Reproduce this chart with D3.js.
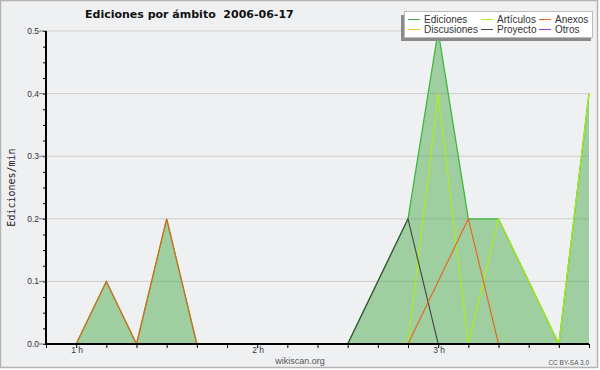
<!DOCTYPE html>
<html>
<head>
<meta charset="utf-8">
<script src="https://cdn.jsdelivr.net/npm/d3@7"></script>
<style>
  body { margin: 0; background: #ffffff; }
</style>
</head>
<body>
<div id="chart"></div>
<script>
// minutes after midnight, one bucket every 10 min
var times = [50, 60, 70, 80, 90, 100, 110, 120, 130, 140, 150, 160, 170, 180, 190, 200, 210, 220, 230];
var ediciones   = [0, 0, 0.1, 0, 0.2, 0, 0, 0, 0, 0, 0, 0.1, 0.2, 0.5, 0.2, 0.2, 0.1, 0, 0.4];
var discusiones = [0, 0, 0, 0, 0, 0, 0, 0, 0, 0, 0, 0, 0, 0, 0, 0, 0, 0, 0];
var articulos   = [0, 0, 0, 0, 0, 0, 0, 0, 0, 0, 0, 0, 0, 0.4, 0, 0.2, 0.1, 0, 0.4];
var anexos      = [0, 0, 0.1, 0, 0.2, 0, 0, 0, 0, 0, 0, 0, 0, 0.1, 0.2, 0, 0, 0, 0];
var proyecto    = [0, 0, 0, 0, 0, 0, 0, 0, 0, 0, 0, 0.1, 0.2, 0, 0, 0, 0, 0, 0];
var otros       = [0, 0, 0, 0, 0, 0, 0, 0, 0, 0, 0, 0, 0, 0, 0, 0, 0, 0, 0];
var yTicks = [0, 0.1, 0.2, 0.3, 0.4, 0.5];
var hourTicks = [60, 120, 180];
var hourLabels = ["1 h", "2 h", "3 h"];
var title = "Ediciones por ámbito\u00a0\u00a02006-06-17";

var series = [
  {name: "Ediciones",   values: ediciones,   color: "#3cb83c"},
  {name: "Discusiones", values: discusiones, color: "#f5c831"},
  {name: "Artículos",   values: articulos,   color: "#b2ee12"},
  {name: "Anexos",      values: anexos,      color: "#ec6218"},
  {name: "Proyecto",    values: proyecto,    color: "#444444"},
  {name: "Otros",       values: otros,       color: "#9a3ae8"}
];

var W = 600, H = 370;
var margin = {top: 31, right: 11, bottom: 26, left: 46},
    width = W - margin.left - margin.right,
    height = H - margin.top - margin.bottom;

var root = d3.select("#chart")
  .append("svg")
    .attr("width", W)
    .attr("height", H);

root.append("rect")
  .attr("x", 0.5).attr("y", 0.5)
  .attr("width", 597).attr("height", 367)
  .attr("fill", "#eff0f2")
  .attr("stroke", "#b4b4b4")
  .attr("stroke-width", 1.5);

var svg = root.append("g")
  .attr("transform", "translate(" + margin.left + "," + margin.top + ")");

var x = d3.scaleLinear()
  .domain([50, 230])
  .range([0, width]);

var y = d3.scaleLinear()
  .domain([0, 0.5])
  .range([height, 0]);

// grid
svg.append("g")
  .selectAll("line")
  .data(yTicks.slice(1))
  .enter()
  .append("line")
    .attr("x1", 0).attr("x2", width)
    .attr("y1", function(d) { return y(d); })
    .attr("y2", function(d) { return y(d); })
    .attr("stroke", "#cdcdcd")
    .attr("stroke-width", 1);

// area for the total
var area = d3.area()
  .x(function(d, i) { return x(times[i]); })
  .y0(y(0))
  .y1(function(d) { return y(d); });

svg.append("path")
  .datum(ediciones)
  .attr("d", area)
  .attr("fill", "rgb(70,168,70)")
  .attr("fill-opacity", 0.47);

var line = d3.line()
  .x(function(d, i) { return x(times[i]); })
  .y(function(d) { return y(d); });

var order = [0, 1, 2, 4, 3, 5];
order.forEach(function(k) {
  var s = series[k];
  svg.append("path")
    .datum(s.values)
    .attr("d", line)
    .attr("fill", "none")
    .attr("stroke", s.color)
    .attr("stroke-width", k == 0 ? 1.3 : 1.1);
});

// Y axis
var yAxis = svg.append("g");
yAxis.call(d3.axisLeft(y)
    .tickValues(d3.range(0, 0.5001, 0.025))
    .tickSize(3)
    .tickFormat(""));
yAxis.select(".domain").remove();
yAxis.selectAll("line").attr("stroke", "#000");

yAxis.selectAll(".major")
  .data(yTicks)
  .enter()
  .append("line")
    .attr("x1", -7).attr("x2", 0)
    .attr("y1", function(d) { return y(d); })
    .attr("y2", function(d) { return y(d); })
    .attr("stroke", "#777");

yAxis.selectAll(".lbl")
  .data(yTicks)
  .enter()
  .append("text")
    .attr("x", -7)
    .attr("y", function(d) { return y(d) + 3; })
    .attr("text-anchor", "end")
    .attr("font-family", "Liberation Sans")
    .attr("font-size", 8.5)
    .attr("fill", "#333")
    .text(function(d) { return d3.format(".1f")(d); });

svg.append("line")
  .attr("x1", 0).attr("x2", 0)
  .attr("y1", 0).attr("y2", height)
  .attr("stroke", "#000").attr("stroke-width", 2);

// X axis
var xAxis = svg.append("g")
  .attr("transform", "translate(0," + height + ")");
xAxis.call(d3.axisBottom(x)
    .tickValues(d3.range(50, 231, 10))
    .tickSize(4)
    .tickFormat(""));
xAxis.select(".domain").remove();
xAxis.selectAll("line").attr("stroke", "#000");

xAxis.selectAll(".lbl")
  .data(hourTicks)
  .enter()
  .append("text")
    .attr("x", function(d) { return x(d) + 1; })
    .attr("y", 9)
    .attr("text-anchor", "middle")
    .attr("font-family", "Liberation Sans")
    .attr("font-size", 8.5)
    .attr("fill", "#333")
    .text(function(d, i) { return hourLabels[i]; });

svg.append("line")
  .attr("x1", -1).attr("x2", width)
  .attr("y1", height).attr("y2", height)
  .attr("stroke", "#000").attr("stroke-width", 2);

// title and labels
root.append("text")
  .attr("x", 85)
  .attr("y", 18)
  .attr("font-family", "DejaVu Sans")
  .attr("font-weight", "bold")
  .attr("font-size", 11)
  .attr("fill", "#111")
  .text(title);

root.append("text")
  .attr("transform", "translate(15," + (margin.top + height / 2) + ") rotate(-90)")
  .attr("text-anchor", "middle")
  .attr("font-family", "DejaVu Sans Mono")
  .attr("font-size", 10)
  .attr("fill", "#222")
  .text("Ediciones/min");

root.append("text")
  .attr("x", 300)
  .attr("y", 364)
  .attr("text-anchor", "middle")
  .attr("font-family", "Liberation Sans")
  .attr("font-size", 9)
  .attr("fill", "#555")
  .text("wikiscan.org");

root.append("text")
  .attr("x", 589)
  .attr("y", 365)
  .attr("text-anchor", "end")
  .attr("font-family", "Liberation Sans")
  .attr("font-size", 6.5)
  .attr("fill", "#555")
  .text("CC BY-SA 3.0");

// legend
var legend = root.append("g");
legend.append("rect")
  .attr("x", 401).attr("y", 15)
  .attr("width", 190).attr("height", 26)
  .attr("fill", "#8a8a8a");
legend.append("rect")
  .attr("x", 404.5).attr("y", 11.5)
  .attr("width", 188).attr("height", 26)
  .attr("fill", "#fff")
  .attr("stroke", "#bbb");

var colX = [408, 481, 539];
var legendOrder = [0, 2, 3, 1, 4, 5];
legendOrder.forEach(function(k, j) {
  var s = series[k];
  var cx = colX[j % 3], cy = j < 3 ? 19.5 : 29.5;
  legend.append("line")
    .attr("x1", cx).attr("x2", cx + 12)
    .attr("y1", cy).attr("y2", cy)
    .attr("stroke", s.color);
  legend.append("text")
    .attr("x", cx + 16)
    .attr("y", cy + 3.5)
    .attr("font-family", "Liberation Sans")
    .attr("font-size", 10)
    .attr("fill", "#333")
    .text(s.name);
});
</script>
</body>
</html>
